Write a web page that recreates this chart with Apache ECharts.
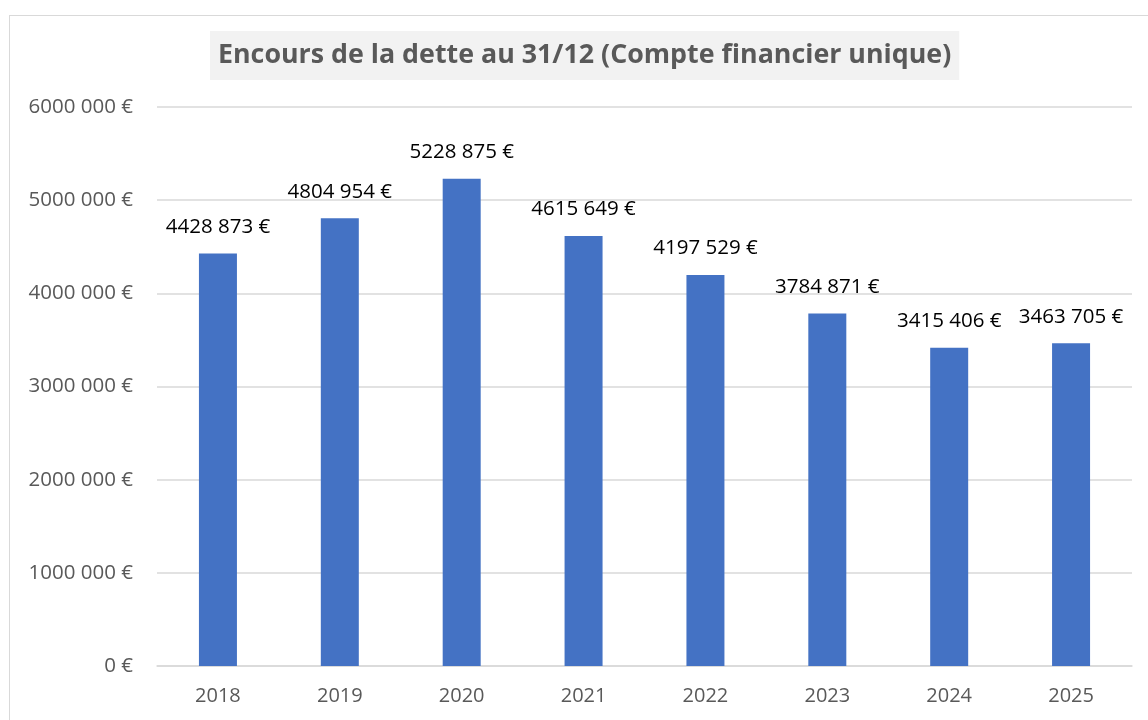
<!DOCTYPE html>
<html>
<head>
<meta charset="utf-8">
<script src="https://cdn.jsdelivr.net/npm/echarts@6/dist/echarts.min.js"></script>
<style>
  html, body { margin: 0; padding: 0; background: #fff; }
  #frame { position: absolute; left: 9px; top: 15px; width: 1160px; height: 720px; border: 1px solid #d9d9d9; }
  #chart { position: absolute; left: 0; top: 0; width: 1148px; height: 720px; }
</style>
</head>
<body>
<div id="frame"></div>
<div id="chart"></div>
<script>
// données
var years = ['2018', '2019', '2020', '2021', '2022', '2023', '2024', '2025'];
var encours = [4428873, 4804954, 5228875, 4615649, 4197529, 3784871, 3415406, 3463705];
var yTicks = [0, 1000000, 2000000, 3000000, 4000000, 5000000, 6000000];

// format "4428 873 €"
function fmt(v) {
  if (v === 0) return '0 €';
  var s = String(Math.round(v));
  return s.slice(0, s.length - 3) + ' ' + s.slice(-3) + ' €';
}

var font = 'Open Sans';
var myChart = echarts.init(document.getElementById('chart'));
var option = {
  animation: false,
  title: {
    text: 'Encours de la dette au 31/12 (Compte financier unique)',
    left: 210,
    top: 31,
    padding: [11, 8, 11, 8],
    backgroundColor: '#f2f2f2',
    textStyle: { color: '#595959', fontFamily: font, fontWeight: 'bold', fontSize: 26.8 }
  },
  grid: { left: 157, right: 16, top: 107, bottom: 54 },
  xAxis: {
    type: 'category',
    data: years,
    axisLine: { lineStyle: { color: '#d9d9d9', width: 1.5 } },
    axisTick: { show: false },
    axisLabel: { color: '#595959', fontFamily: font, fontSize: 20, margin: 20 }
  },
  yAxis: {
    type: 'value',
    min: yTicks[0],
    max: yTicks[yTicks.length - 1],
    interval: 1000000,
    splitLine: { lineStyle: { color: '#d9d9d9', width: 1.5 } },
    axisLabel: { color: '#595959', fontFamily: font, fontSize: 20.5, margin: 24, formatter: fmt }
  },
  series: [{
    type: 'bar',
    data: encours,
    barWidth: 38,
    itemStyle: { color: '#4472c4' },
    label: {
      show: true,
      position: 'top',
      distance: 16,
      color: '#000',
      fontFamily: font,
      fontSize: 20.5,
      formatter: function (p) { return fmt(p.value); }
    }
  }]
};
myChart.setOption(option);
</script>
</body>
</html>
